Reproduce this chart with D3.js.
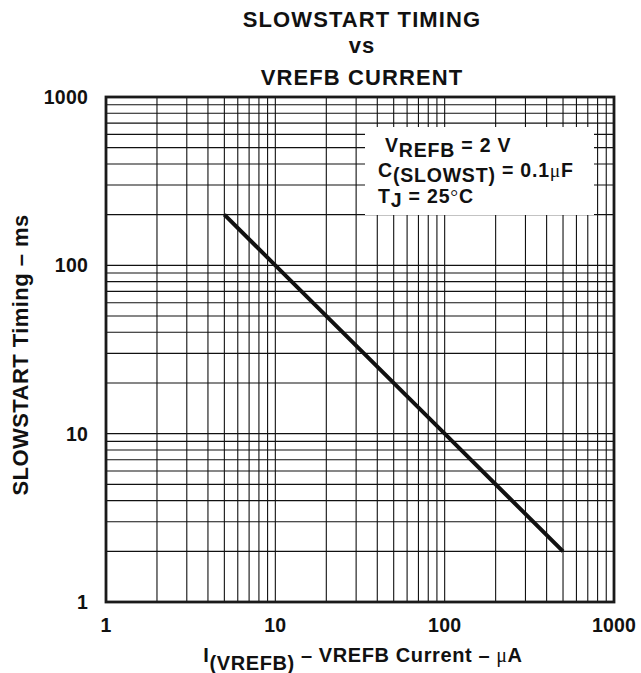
<!DOCTYPE html>
<html>
<head>
<meta charset="utf-8">
<script src="https://cdn.jsdelivr.net/npm/d3@7"></script>
<style>
  body { margin: 0; background: #fff; }
  text { font-family: "Liberation Sans", Arial, sans-serif; font-weight: bold; fill: #111; }
</style>
</head>
<body>
<div id="vis"></div>
<script>

// values
var currentUA = [5, 10, 100, 500];      // I(VREFB) in uA
var timingMs = [200, 100, 10, 2];       // slowstart timing in ms
var xTickLabels = [1, 10, 100, 1000];
var yTickLabels = [1, 10, 100, 1000];
var titleLines = ["SLOWSTART TIMING", "vs", "VREFB CURRENT"];

var width = 641;
var height = 673;
var margin = {top: 97, right: 27, bottom: 71, left: 106};

var svg = d3.select("#vis")
    .append("svg")
      .attr("width", width)
      .attr("height", height);

var chart = svg.append("g").attr("transform", "translate(" + margin.left + "," + margin.top + ")");

width = width - margin.left - margin.right;
height = height - margin.top - margin.bottom;

var x = d3.scaleLog().domain([1, 1000]).range([0, width]);
var y = d3.scaleLog().domain([1, 1000]).range([height, 0]);

// gridlines, every 1..9 in each decade
chart.append("g")
    .attr("class", "grid")
    .selectAll("line.v")
    .data(x.ticks())
    .enter().append("line")
      .attr("x1", function(d) { return x(d); })
      .attr("x2", function(d) { return x(d); })
      .attr("y1", 0)
      .attr("y2", height)
      .attr("stroke", "#111")
      .attr("stroke-width", 1.1);

chart.append("g")
    .attr("class", "grid")
    .selectAll("line.h")
    .data(y.ticks())
    .enter().append("line")
      .attr("x1", 0)
      .attr("x2", width)
      .attr("y1", function(d) { return y(d); })
      .attr("y2", function(d) { return y(d); })
      .attr("stroke", "#111")
      .attr("stroke-width", 1.1);

// legend box blanks out the grid
chart.append("rect")
    .attr("x", 259)
    .attr("y", 30)
    .attr("width", 229)
    .attr("height", 88)
    .attr("fill", "#fff");

// the curve
var line = d3.line()
    .x(function(d) { return x(d[0]); })
    .y(function(d) { return y(d[1]); });

chart.append("path")
    .datum(d3.zip(currentUA, timingMs))
    .attr("fill", "none")
    .attr("stroke", "#111")
    .attr("stroke-width", 4)
    .attr("d", line);

// frame
chart.append("rect")
    .attr("width", width)
    .attr("height", height)
    .attr("fill", "none")
    .attr("stroke", "#1a1a1a")
    .attr("stroke-width", 2.8);

// tick labels
chart.selectAll("text.xt")
    .data(xTickLabels)
    .enter().append("text")
      .attr("x", function(d) { return x(d); })
      .attr("y", height + 30)
      .attr("text-anchor", "middle")
      .style("font-size", "19.5px")
      .style("letter-spacing", "0.2px")
      .text(function(d) { return d; });

chart.selectAll("text.yt")
    .data(yTickLabels)
    .enter().append("text")
      .attr("x", -18)
      .attr("y", function(d) { return y(d); })
      .attr("dy", "0.36em")
      .attr("text-anchor", "end")
      .style("font-size", "19.5px")
      .style("letter-spacing", "0.2px")
      .text(function(d) { return d; });

// title
svg.selectAll("text.title")
    .data(titleLines)
    .enter().append("text")
      .attr("x", 362)
      .attr("y", function(d, i) { return [27, 53, 85][i]; })
      .attr("text-anchor", "middle")
      .style("font-size", "22px")
      .style("letter-spacing", "1.1px")
      .text(function(d) { return d; });

// y axis label
svg.append("text")
    .attr("transform", "translate(28,355) rotate(-90)")
    .attr("text-anchor", "middle")
    .style("font-size", "22px")
    .style("letter-spacing", "0.45px")
    .text("SLOWSTART Timing \u2013 ms");

// x axis label
var xl = svg.append("text")
    .attr("x", 363)
    .attr("y", 662)
    .attr("text-anchor", "middle")
    .style("font-size", "20px")
    .style("letter-spacing", "0.6px");
xl.append("tspan").text("I");
xl.append("tspan").attr("dy", 8).text("(VREFB)");
xl.append("tspan").attr("dy", -8).text(" \u2013 VREFB Current \u2013 ");
xl.append("tspan").style("font-family", "'Liberation Serif', serif").style("font-weight", "normal").text("\u03bc");
xl.append("tspan").text("A");

// legend text
var leg = svg.append("g").style("font-size", "19.5px").style("letter-spacing", "0.8px");

var l1 = leg.append("text").attr("x", 385).attr("y", 152);
l1.append("tspan").text("V");
l1.append("tspan").attr("dy", 5).text("REFB");
l1.append("tspan").attr("dy", -5).text(" = 2 V");

var l2 = leg.append("text").attr("x", 378).attr("y", 177);
l2.append("tspan").text("C");
l2.append("tspan").attr("dy", 5).text("(SLOWST)");
l2.append("tspan").attr("dy", -5).text(" = 0.1");
l2.append("tspan").style("font-family", "'Liberation Serif', serif").style("font-weight", "normal").text("\u03bc");
l2.append("tspan").text("F");

var l3 = leg.append("text").attr("x", 378).attr("y", 203);
l3.append("tspan").text("T");
l3.append("tspan").attr("dy", 4).text("J");
l3.append("tspan").attr("dy", -4).text(" = 25");
l3.append("tspan").style("font-family", "'Liberation Serif', serif").style("font-weight", "normal").text("\u00b0");
l3.append("tspan").text("C");

</script>
</body>
</html>
